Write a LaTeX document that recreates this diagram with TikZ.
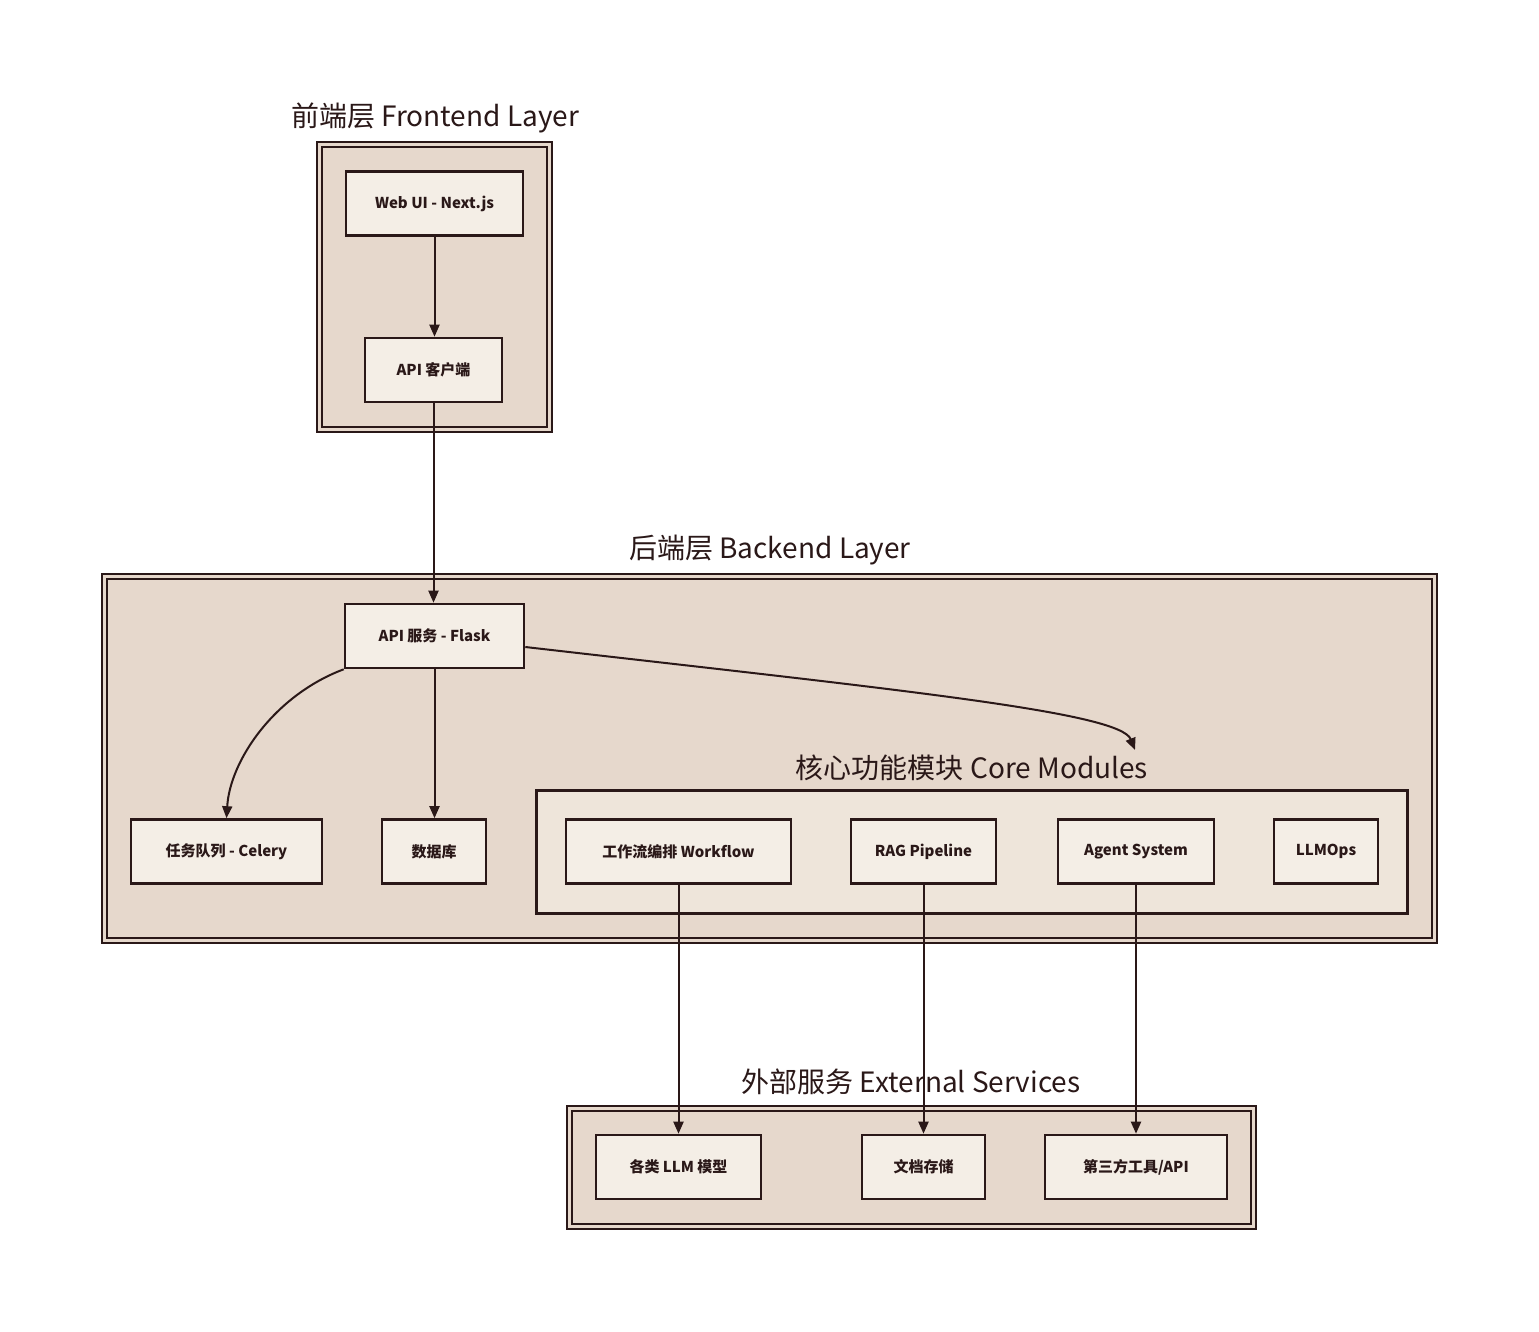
\documentclass[tikz,border=0pt]{standalone}
\usepackage{fontspec}
\setmainfont{Noto Sans CJK SC}
\usetikzlibrary{arrows.meta,calc}
\definecolor{ink}{HTML}{2A1818}
\definecolor{clfill}{HTML}{E6D8CC}
\definecolor{corefill}{HTML}{EEE5DA}
\definecolor{nodefill}{HTML}{F4EEE6}
\tikzset{
  cluster/.style={draw=ink, line width=2.3pt, double=clfill, double distance=3pt, fill=clfill, inner sep=0pt},
  corecluster/.style={draw=ink, line width=3pt, fill=corefill, inner sep=0pt},
  box/.style={draw=ink, line width=2.6pt, fill=nodefill, inner sep=0pt, minimum height=64pt,
    font=\fontsize{15}{18}\selectfont\bfseries, text=ink},
  grouptitle/.style={font=\fontsize{28}{32}\selectfont, text=ink, inner sep=0pt},
  arr/.style={draw=ink, line width=2pt, -{Triangle[length=12pt,width=10pt]}}
}
\begin{document}
\begin{tikzpicture}[x=1pt,y=-1pt]
\useasboundingbox (0,0) rectangle (1539,1332);

% clusters
\node[cluster, minimum width=230pt, minimum height=285pt] (fe) at (434.5,287) {};
\node[grouptitle] (fetitle) at (435,118) {前端层 Frontend Layer};

\node[cluster, minimum width=1330pt, minimum height=364pt] (be) at (769.5,758.5) {};
\node[grouptitle] (betitle) at (770,550) {后端层 Backend Layer};

\node[corecluster, minimum width=871pt, minimum height=123pt] (core) at (972,852) {};
\node[grouptitle] (coretitle) at (972,768) {核心功能模块 Core Modules};

\node[cluster, minimum width=684pt, minimum height=118pt] (ext) at (911.5,1167.5) {};
\node[grouptitle] (exttitle) at (911,1082) {外部服务 External Services};

% nodes
\node[box, minimum width=177pt] (web) at (434.5,203.5) {Web UI - Next.js};
\node[box, minimum width=137pt] (apic) at (433.5,370) {API 客户端};
\node[box, minimum width=179pt] (flask) at (434.5,636) {API 服务 - Flask};
\node[box, minimum width=191pt] (celery) at (226.5,851.5) {任务队列 - Celery};
\node[box, minimum width=104pt] (db) at (434,851.5) {数据库};
\node[box, minimum width=225pt] (wf) at (678.5,851.5) {工作流编排 Workflow};
\node[box, minimum width=145pt] (rag) at (923.5,851.5) {RAG Pipeline};
\node[box, minimum width=156pt] (agent) at (1136,851.5) {Agent System};
\node[box, minimum width=104pt] (llmops) at (1326,851.5) {LLMOps};
\node[box, minimum width=165pt] (llm) at (678.5,1167) {各类 LLM 模型};
\node[box, minimum width=123pt] (doc) at (923.5,1167) {文档存储};
\node[box, minimum width=182pt] (third) at (1136,1167) {第三方工具/API};

% edges
\coordinate (coreend) at (1135,750);
\draw[arr] (web.south) -- (web.south |- apic.north);
\draw[arr] (apic.south) -- (apic.south |- flask.north);
\draw[arr] (flask.south) -- (flask.south |- db.north);
\draw[arr] (flask.south west) .. controls (275,695) and (230,760) .. (celery.north);
\draw[arr] ($(flask.east)+(0,11)$) .. controls (900,690) and (1120,712) .. (coreend);
\draw[arr] (wf.south) -- (wf.south |- llm.north);
\draw[arr] (rag.south) -- (rag.south |- doc.north);
\draw[arr] (agent.south) -- (agent.south |- third.north);
\end{tikzpicture}
\end{document}
